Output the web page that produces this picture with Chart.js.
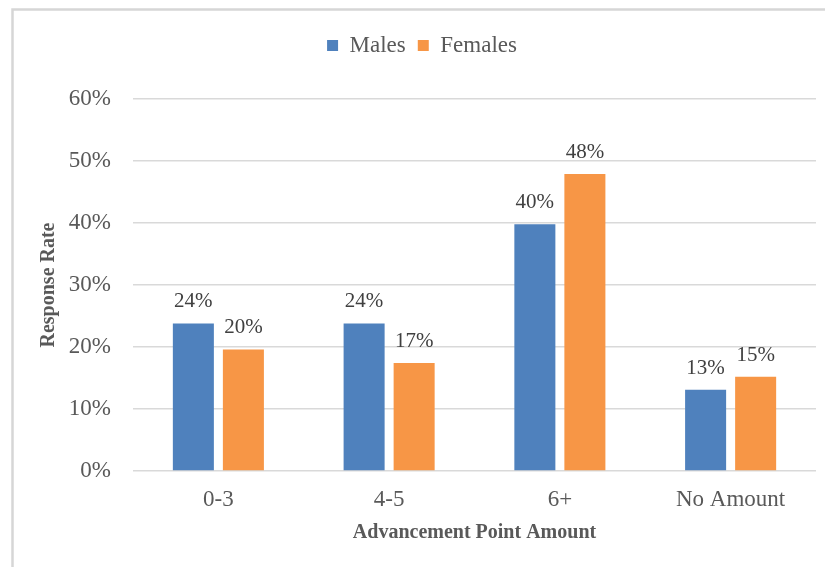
<!DOCTYPE html>
<html>
<head>
<meta charset="utf-8">
<script src="https://cdn.jsdelivr.net/npm/chart.js@4.4.0/dist/chart.umd.min.js"></script>
<style>
  html, body { margin: 0; padding: 0; background: #fff; }
  #wrap { position: relative; width: 825px; height: 567px; }
</style>
</head>
<body>
<div id="wrap"><canvas id="chart"></canvas></div>
<script>
// response rates by advancement point amount (percent)
var categories = ["0-3", "4-5", "6+", "No Amount"];
var males = [23.8, 23.8, 39.8, 13.1];
var females = [19.6, 17.4, 47.9, 15.2];
var yTicks = [0, 10, 20, 30, 40, 50, 60];

var serif = "'Liberation Serif', 'Times New Roman', serif";

// frame lines along the top and left edge
var framePlugin = {
  id: "frame",
  beforeDraw: function (chart) {
    var ctx = chart.ctx;
    ctx.save();
    ctx.strokeStyle = "#d6d6d6";
    ctx.lineWidth = 2.5;
    ctx.beginPath();
    ctx.moveTo(12.5, chart.height);
    ctx.lineTo(12.5, 9.5);
    ctx.lineTo(chart.width, 9.5);
    ctx.stroke();
    ctx.restore();
  }
};

// extra room between legend and plot
var legendGap = {
  id: "legendGap",
  beforeInit: function (chart) {
    var fit = chart.legend.fit;
    chart.legend.fit = function () {
      fit.bind(chart.legend)();
      this.height += 32;
    };
  }
};

// value labels above each bar
var valueLabels = {
  id: "valueLabels",
  afterDatasetsDraw: function (chart) {
    var ctx = chart.ctx;
    ctx.save();
    ctx.font = "21px " + serif;
    ctx.fillStyle = "#404040";
    ctx.textAlign = "center";
    ctx.textBaseline = "alphabetic";
    chart.data.datasets.forEach(function (ds, i) {
      chart.getDatasetMeta(i).data.forEach(function (bar, j) {
        ctx.fillText(Math.round(ds.data[j]) + "%", bar.x, bar.y - 16);
      });
    });
    ctx.restore();
  }
};

new Chart(document.getElementById("chart"), {
  type: "bar",
  data: {
    labels: categories,
    datasets: [
      { label: "Males", data: males, backgroundColor: "#4f81bd" },
      { label: "Females", data: females, backgroundColor: "#f79646" }
    ]
  },
  options: {
    responsive: true,
    maintainAspectRatio: false,
    animation: false,
    categoryPercentage: 0.586,
    barPercentage: 0.82,
    layout: { padding: { left: 28, right: 9, top: 22, bottom: 22 } },
    plugins: {
      legend: {
        position: "top",
        labels: {
          boxWidth: 11,
          boxHeight: 11,
          padding: 12,
          color: "#595959",
          font: { family: serif, size: 23 }
        }
      },
      tooltip: { enabled: false }
    },
    scales: {
      x: {
        afterFit: function (scale) { scale.height = 74; },
        grid: { display: false },
        border: { display: false },
        ticks: { color: "#595959", padding: 7, font: { family: serif, size: 23 } },
        title: {
          display: true,
          text: "Advancement Point Amount",
          color: "#595959",
          padding: { top: 0, bottom: 0 },
          font: { family: serif, size: 20, weight: "bold" }
        }
      },
      y: {
        min: 0,
        max: 60,
        afterBuildTicks: function (scale) {
          scale.ticks = yTicks.map(function (v) { return { value: v }; });
        },
        afterFit: function (scale) { scale.width = 105; },
        grid: { color: "#d9d9d9", lineWidth: 1.5, drawTicks: false },
        border: { display: false },
        ticks: {
          color: "#595959",
          padding: 22,
          font: { family: serif, size: 23 },
          callback: function (v) { return v + "%"; }
        },
        title: {
          display: true,
          text: "Response Rate",
          color: "#595959",
          padding: { top: 9, bottom: 0 },
          font: { family: serif, size: 20, weight: "bold" }
        }
      }
    }
  },
  plugins: [framePlugin, legendGap, valueLabels]
});
</script>
</body>
</html>
